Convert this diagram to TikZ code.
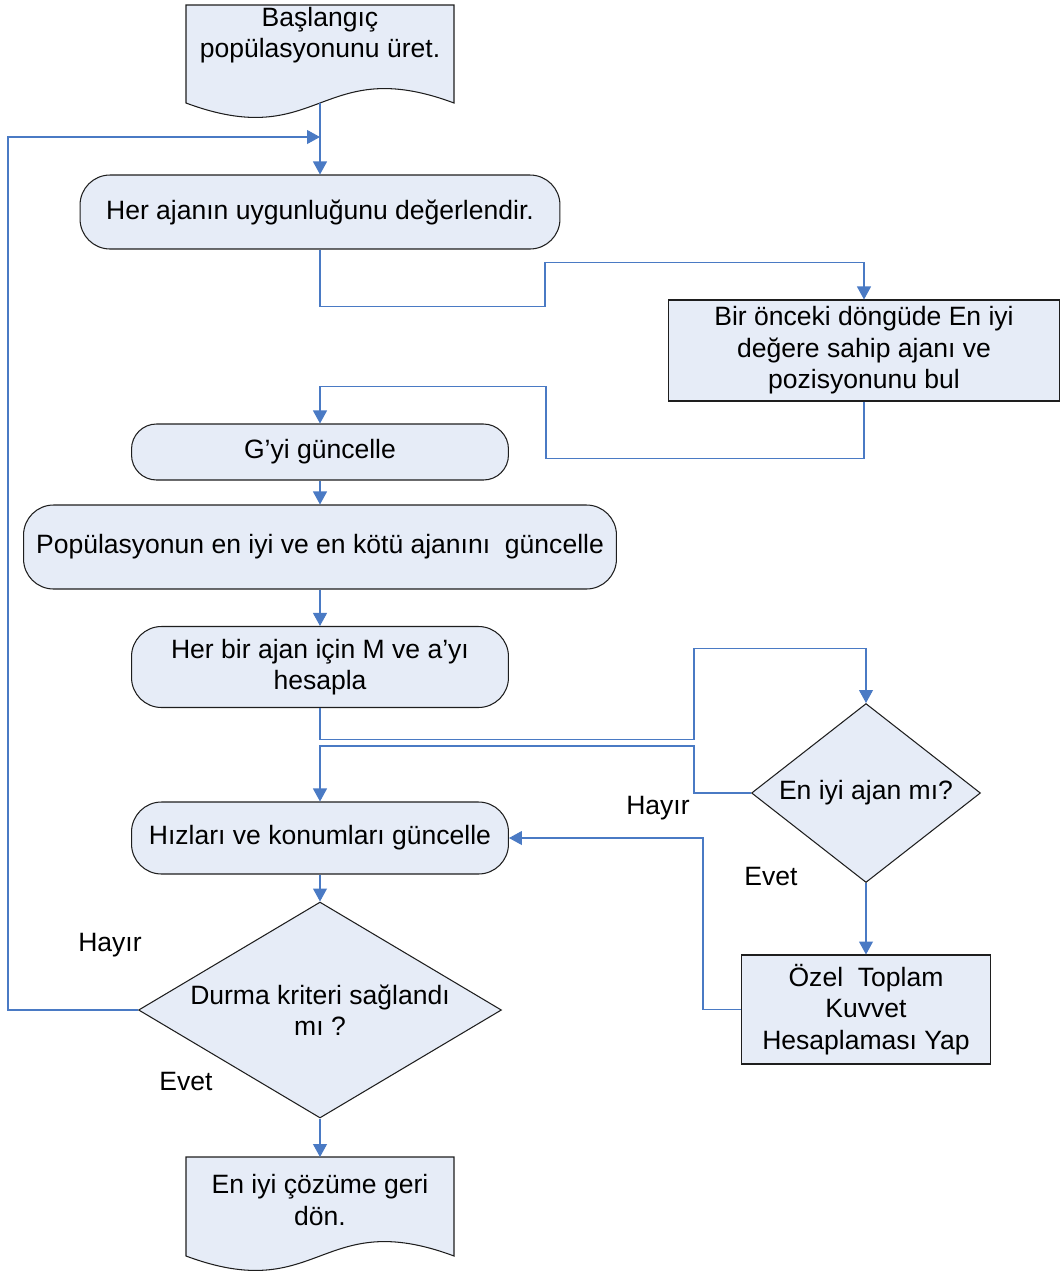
\documentclass[tikz,border=0pt]{standalone}
\usepackage{fontspec}
\setmainfont{Liberation Sans}
\usetikzlibrary{shapes.geometric, arrows.meta, positioning, calc}

\definecolor{boxfill}{RGB}{230,236,247}
\definecolor{flowblue}{RGB}{74,122,196}
\definecolor{outline}{RGB}{30,30,30}

\begin{document}
\begin{tikzpicture}[x=0.02cm, y=-0.02cm,
  font=\fontsize{15.1}{17.9}\selectfont,
  procbox/.style={draw=outline, fill=boxfill, line width=0.6pt, rounded corners=0.6cm, align=center},
  plainbox/.style={draw=outline, fill=boxfill, line width=0.6pt, align=center},
  decision/.style={diamond, draw=outline, fill=boxfill, line width=0.6pt, align=center, inner sep=0pt},
  docshape/.style={draw=outline, fill=boxfill, line width=0.6pt},
  flow/.style={draw=flowblue, line width=0.6pt, -{Triangle[length=0.26cm, width=0.28cm]}}]

\useasboundingbox (0,0) rectangle (1060,1272);

% document shapes
\draw [docshape] (186,5) -- (454,5) -- (454,103) .. controls (320,53) and (320,153) .. (186,103) -- cycle;
\draw [docshape] (186,1157) -- (454,1157) -- (454,1256) .. controls (320,1206) and (320,1306) .. (186,1256) -- cycle;

\node [align=center] (start) at (320,35) {Başlangıç\\popülasyonunu üret.};
\coordinate (startout) at (320,103);
\coordinate (loopin) at (320,137);

\node [procbox, minimum width=9.6cm, minimum height=1.48cm] (eval) at (320,212) {Her ajanın uygunluğunu değerlendir.};
\node [plainbox, minimum width=7.82cm, minimum height=2.02cm] (best) at (864,350.5) {Bir önceki döngüde En iyi\\değere sahip ajanı ve\\pozisyonunu bul};
\node [procbox, rounded corners=0.5cm, minimum width=7.54cm, minimum height=1.12cm] (gupd) at (320,452) {G’yi güncelle};
\node [procbox, minimum width=11.86cm, minimum height=1.68cm] (popupd) at (320,547) {Popülasyonun en iyi ve en kötü ajanını~ güncelle};
\node [procbox, minimum width=7.54cm, minimum height=1.62cm] (mcalc) at (320,667) {Her bir ajan için M ve a’yı\\hesapla};
\node [decision, aspect=1.28, minimum width=4.58cm, minimum height=3.58cm] (bestq) at (866,793) {En iyi ajan mı?};
\node [procbox, minimum width=7.54cm, minimum height=1.44cm] (speed) at (320,838) {Hızları ve konumları güncelle};
\node [plainbox, minimum width=4.98cm, minimum height=2.18cm] (force) at (866,1009.5) {Özel~ Toplam\\Kuvvet\\Hesaplaması Yap};
\node [decision, aspect=1.68, minimum width=7.26cm, minimum height=4.32cm] (stopq) at (320,1010) {Durma kriteri sağlandı\\mı ?};

\node [align=center] (done) at (320,1200) {En iyi çözüme geri\\dön.};
\coordinate (donein) at (320,1157);

% labels
\node (no1) at (658,808) {Hayır};
\node (yes1) at (771,876) {Evet};
\node (no2) at (110,945) {Hayır};
\node (yes2) at (186,1081) {Evet};

% connectors
\draw [flow] (startout) -- (eval);
\draw [flow] (stopq.west) -- ++(-130,0) |- (loopin);
\draw [flow] (eval.south) -- ++(0,57) -- ++(225,0) -- ++(0,-44) -| (best.north);
\draw [flow] (best.south) -- ++(0,57) -- ++(-318,0) -- ++(0,-72) -| (gupd.north);
\draw [flow] (gupd) -- (popupd);
\draw [flow] (popupd) -- (mcalc);
\draw [flow] (mcalc.south) -- ++(0,31) -- ++(374,0) -- ++(0,-91) -| (bestq.north);
\draw [flow] (bestq.west) -- ++(-57,0) -- ++(0,-47) -| (speed.north);
\draw [flow] (bestq) -- (force);
\draw [flow] (force.west) -- ++(-38,0) |- (speed.east);
\draw [flow] (speed) -- (stopq);
\draw [flow] (stopq) -- (donein);

\end{tikzpicture}
\end{document}
